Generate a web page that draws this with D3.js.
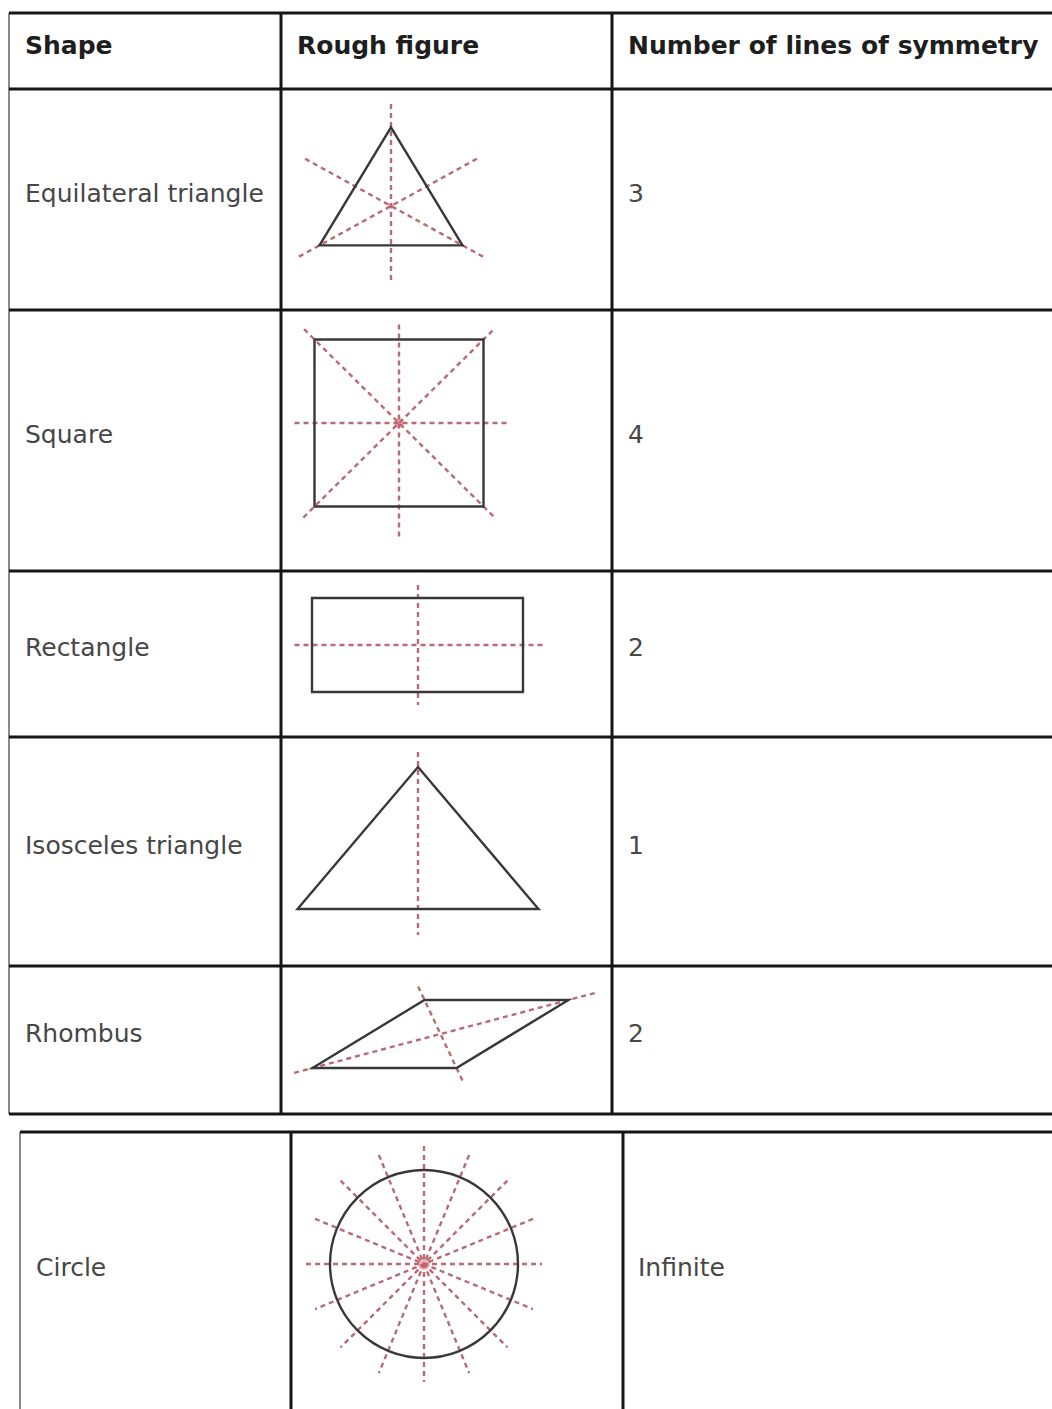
<!DOCTYPE html>
<html>
<head>
<meta charset="utf-8">
<script src="https://cdn.jsdelivr.net/npm/d3@7"></script>
<style>
	html, body { margin: 0; padding: 0; background: #fff; }
	svg { display: block; }
	text { font-family: 'DejaVu Sans', Verdana, sans-serif; }
</style>
</head>
<body>
<div id="chart"></div>
<script>
var headers = ['Shape', 'Rough figure', 'Number of lines of symmetry'];
var shapes = ['Equilateral triangle', 'Square', 'Rectangle', 'Isosceles triangle', 'Rhombus', 'Circle'];
var symmetryCounts = ['3', '4', '2', '1', '2', 'Infinite'];
// rough size of each drawn figure: [width, height(, lean)] (circle: [radius])
var figureSizes = [[143, 118], [169, 167], [211, 94], [241, 142], [144, 68, 112], [94]];
var circleAxisCount = 8;

var width = 1052,
	height = 1409;

// layout: first table holds header + five rows, the circle sits in a second table below
var rowEdges = [13, 89, 310, 571, 737, 966, 1114],
	table1 = {left: 9, cols: [281, 612], textX: [25, 297, 628]},
	table2 = {left: 20, top: 1132, bottom: 1420, cols: [291, 623], textX: [36, 638]},
	figureCentres = [[391, 206], [399, 423], [418, 645], [418, 838], [440.5, 1034], [424, 1264]];

var svg = d3.select('#chart').append('svg')
	.attr('width', width)
	.attr('height', height)
	.attr('viewBox', '0 0 ' + width + ' ' + height);

svg.append('rect').attr('width', width).attr('height', height).attr('fill', '#fff');

var dashColor = '#b86b72',
	shapeColor = '#383838',
	fontSize = 25;

var gFig = svg.append('g');
var gGrid = svg.append('g');
var gText = svg.append('g');

//Table rules
function rule(x1, y1, x2, y2, colour, w) {
	gGrid.append('line')
		.attr('x1', x1).attr('y1', y1).attr('x2', x2).attr('y2', y2)
		.attr('stroke', colour).attr('stroke-width', w);
}

rule(table1.left, rowEdges[0], table1.left, rowEdges[rowEdges.length - 1], '#8a8a8a', 2);
rowEdges.forEach(function(y) { rule(table1.left, y, width, y, '#151515', 3); });
table1.cols.forEach(function(x) { rule(x, rowEdges[0], x, rowEdges[rowEdges.length - 1], '#151515', 3); });

rule(table2.left, table2.top, table2.left, table2.bottom, '#8a8a8a', 2);
rule(table2.left, table2.top, width, table2.top, '#151515', 3);
table2.cols.forEach(function(x) { rule(x, table2.top, x, table2.bottom, '#151515', 3); });

//Header text
headers.forEach(function(h, i) {
	gText.append('text')
		.attr('x', table1.textX[i])
		.attr('y', (rowEdges[0] + rowEdges[1]) / 2 + 3)
		.attr('font-size', fontSize)
		.attr('font-weight', 'bold')
		.attr('fill', '#1e1e1e')
		.text(h);
});

//Row middles
function rowMiddle(i) {
	if (i < rowEdges.length - 2) return (rowEdges[i + 1] + rowEdges[i + 2]) / 2;
	return figureCentres[i][1] + 10;
}

shapes.forEach(function(s, i) {
	var inSecond = i >= rowEdges.length - 2;
	var xs = inSecond ? table2.textX : [table1.textX[0], table1.textX[2]];
	var y = rowMiddle(i) + 2;
	gText.append('text')
		.attr('x', xs[0]).attr('y', y)
		.attr('font-size', fontSize).attr('fill', '#474747')
		.text(s);
	gText.append('text')
		.attr('x', xs[1]).attr('y', y)
		.attr('font-size', fontSize).attr('fill', '#474747')
		.text(symmetryCounts[i]);
});

//Figures
var line = d3.line().x(function(d) { return d[0]; }).y(function(d) { return d[1]; });

function outline(pts) {
	gFig.append('path')
		.attr('d', line(pts) + 'Z')
		.attr('fill', 'none')
		.attr('stroke', shapeColor)
		.attr('stroke-width', 2.4)
		.attr('stroke-linejoin', 'miter');
}

function axis(c, angle, back, fwd) {
	var dx = Math.cos(angle), dy = Math.sin(angle);
	gFig.append('line')
		.attr('x1', c[0] - dx * back).attr('y1', c[1] - dy * back)
		.attr('x2', c[0] + dx * fwd).attr('y2', c[1] + dy * fwd)
		.attr('stroke', dashColor)
		.attr('stroke-width', 2.4)
		.attr('stroke-dasharray', '5,4');
}

function centreMark(c, r) {
	gFig.append('circle')
		.attr('cx', c[0]).attr('cy', c[1]).attr('r', r)
		.attr('fill', '#d05a6a').attr('opacity', 0.45);
}

// local scales: map figure units onto the page around the figure centre
function scalesFor(i) {
	var c = figureCentres[i];
	return {
		x: d3.scaleLinear().domain([0, 1]).range([c[0], c[0] + 1]),
		y: d3.scaleLinear().domain([0, 1]).range([c[1], c[1] + 1])
	};
}

// 0: equilateral triangle, axes through each vertex and the centroid
(function() {
	var sc = scalesFor(0), w = figureSizes[0][0], h = figureSizes[0][1];
	var verts = [[sc.x(0), sc.y(-h * 2 / 3)], [sc.x(w / 2), sc.y(h / 3)], [sc.x(-w / 2), sc.y(h / 3)]];
	var c = [sc.x(0), sc.y(0)];
	var opposite = [74, 98, 98];
	verts.forEach(function(v, k) {
		var dx = v[0] - c[0], dy = v[1] - c[1];
		var d = Math.sqrt(dx * dx + dy * dy);
		axis(c, Math.atan2(dy, dx), opposite[k], d + 25);
	});
	centreMark(c, 3);
	outline(verts);
})();

// 1: square
(function() {
	var sc = scalesFor(1), w = figureSizes[1][0], h = figureSizes[1][1];
	var c = [sc.x(0), sc.y(0)];
	axis(c, 0, w / 2 + 20, w / 2 + 24);
	axis(c, Math.PI / 2, h / 2 + 15, h / 2 + 31);
	axis(c, Math.atan2(h, w), w * 0.707 + 14, w * 0.707 + 14);
	axis(c, -Math.atan2(h, w), w * 0.707 + 15, w * 0.707 + 14);
	centreMark(c, 5);
	outline([[sc.x(-w / 2), sc.y(-h / 2)], [sc.x(w / 2), sc.y(-h / 2)], [sc.x(w / 2), sc.y(h / 2)], [sc.x(-w / 2), sc.y(h / 2)]]);
})();

// 2: rectangle
(function() {
	var sc = scalesFor(2), w = figureSizes[2][0], h = figureSizes[2][1];
	var c = [sc.x(0), sc.y(0)];
	axis(c, 0, w / 2 + 18, w / 2 + 20);
	axis(c, Math.PI / 2, h / 2 + 13, h / 2 + 13);
	outline([[sc.x(-w / 2 - 0.5), sc.y(-h / 2)], [sc.x(w / 2 - 0.5), sc.y(-h / 2)], [sc.x(w / 2 - 0.5), sc.y(h / 2)], [sc.x(-w / 2 - 0.5), sc.y(h / 2)]]);
})();

// 3: isosceles triangle (centre = middle of its height)
(function() {
	var sc = scalesFor(3), w = figureSizes[3][0], h = figureSizes[3][1];
	var c = [sc.x(0), sc.y(0)];
	axis(c, Math.PI / 2, h / 2 + 15, h / 2 + 26);
	outline([[sc.x(0), sc.y(-h / 2)], [sc.x(w / 2), sc.y(h / 2)], [sc.x(-w / 2), sc.y(h / 2)]]);
})();

// 4: rhombus, drawn leaning to the right, axes along its diagonals
(function() {
	var sc = scalesFor(4), side = figureSizes[4][0], h = figureSizes[4][1], lean = figureSizes[4][2];
	var half = (side + lean) / 2;
	var verts = [
		[sc.x(-half), sc.y(h / 2)],
		[sc.x(-half + lean), sc.y(-h / 2)],
		[sc.x(half), sc.y(-h / 2)],
		[sc.x(half - lean), sc.y(h / 2)]
	];
	var c = [sc.x(0), sc.y(0)];
	var ext = [[19, 31], [15, 16]];
	[[0, 2], [1, 3]].forEach(function(p, k) {
		var a = verts[p[0]], b = verts[p[1]];
		var dx = b[0] - a[0], dy = b[1] - a[1];
		var d = Math.sqrt(dx * dx + dy * dy);
		axis(c, Math.atan2(dy, dx), d / 2 + ext[k][0], d / 2 + ext[k][1]);
	});
	outline(verts);
})();

// 5: circle with its axes
(function() {
	var sc = scalesFor(5), r = figureSizes[5][0];
	var c = [sc.x(0), sc.y(0)];
	d3.range(circleAxisCount).forEach(function(k) {
		axis(c, k * Math.PI / circleAxisCount, r + 24, r + 24);
	});
	centreMark(c, 6);
	gFig.append('circle')
		.attr('cx', c[0]).attr('cy', c[1]).attr('r', r)
		.attr('fill', 'none')
		.attr('stroke', shapeColor)
		.attr('stroke-width', 2.4);
})();
</script>
</body>
</html>
